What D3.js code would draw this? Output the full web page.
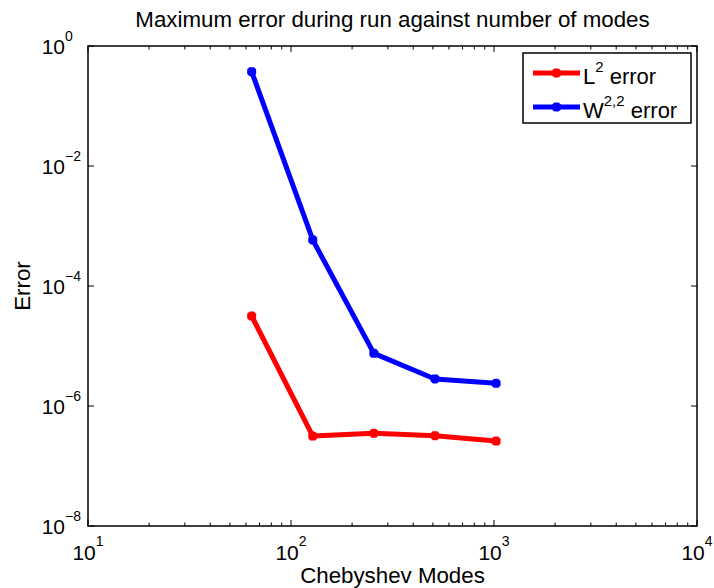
<!DOCTYPE html>
<meta charset="utf-8">
<script src="https://d3js.org/d3.v7.min.js"></script>
<style>
  body { margin: 0; background: #fff; }
  text { font-family: "Liberation Sans", Arial, Helvetica, sans-serif; fill: #000; }
</style>
<div id="my_dataviz"></div>
<script>

// data
var modes = [64, 128, 256, 512, 1024];
var l2Error = [3.16e-5, 3.16e-7, 3.5e-7, 3.2e-7, 2.6e-7];
var w22Error = [0.373, 5.85e-4, 7.55e-6, 2.82e-6, 2.39e-6];

var xTicks = [1e1, 1e2, 1e3, 1e4];
var xTickExp = ["1", "2", "3", "4"];
var yTicks = [1e0, 1e-2, 1e-4, 1e-6, 1e-8];
var yTickExp = ["0", "\u22122", "\u22124", "\u22126", "\u22128"];

var seriesNames = ["L", "W"];
var seriesSup = ["2", "2,2"];
var seriesColors = ["#ff0000", "#0000ff"];

// plot box
var margin = {top: 46, right: 17, bottom: 62, left: 88},
    width = 714 - margin.left - margin.right,
    height = 588 - margin.top - margin.bottom;

var svg = d3.select("#my_dataviz")
  .append("svg")
    .attr("width", 714)
    .attr("height", 588);

var g = svg.append("g")
    .attr("transform", "translate(" + margin.left + "," + margin.top + ")");

var x = d3.scaleLog().domain([1e1, 1e4]).range([0, width]);
var y = d3.scaleLog().domain([1e-8, 1e0]).range([height, 0]);

// minor ticks on x
var xMinor = [];
[1e1, 1e2, 1e3].forEach(function(d) {
  for (var k = 2; k <= 9; k++) xMinor.push(d * k);
});

function tickLines(sel, vals, pos, len, horizontal, atEnd) {
  sel.selectAll(null)
    .data(vals)
    .enter()
    .append("line")
      .attr("x1", function(d) { return horizontal ? pos(d) : (atEnd ? width : 0); })
      .attr("x2", function(d) { return horizontal ? pos(d) : (atEnd ? width - len : len); })
      .attr("y1", function(d) { return horizontal ? (atEnd ? 0 : height) : pos(d); })
      .attr("y2", function(d) { return horizontal ? (atEnd ? len : height - len) : pos(d); })
      .attr("stroke", "#000")
      .attr("stroke-width", 1);
}

var ticks = g.append("g");
tickLines(ticks, xTicks, x, 6, true, false);
tickLines(ticks, xTicks, x, 6, true, true);
tickLines(ticks, xMinor, x, 3.5, true, false);
tickLines(ticks, xMinor, x, 3.5, true, true);
tickLines(ticks, yTicks, y, 6, false, false);
tickLines(ticks, yTicks, y, 6, false, true);

// box
g.append("rect")
  .attr("width", width)
  .attr("height", height)
  .attr("fill", "none")
  .attr("stroke", "#000")
  .attr("stroke-width", 1.5);

// x tick labels
var xl = g.selectAll(".xlab")
  .data(xTicks)
  .enter()
  .append("text")
    .attr("x", function(d) { return x(d); })
    .attr("y", height + 34)
    .attr("text-anchor", "middle")
    .style("font-size", "21px");
xl.append("tspan").text("10");
xl.append("tspan")
  .attr("dy", -14)
  .style("font-size", "14px")
  .text(function(d, i) { return xTickExp[i]; });

// y tick labels
var yl = g.selectAll(".ylab")
  .data(yTicks)
  .enter()
  .append("g")
    .attr("transform", function(d) { return "translate(0," + y(d) + ")"; });
yl.append("text")
  .attr("x", -23)
  .attr("y", 8)
  .attr("text-anchor", "end")
  .style("font-size", "21px")
  .text("10");
yl.append("text")
  .attr("x", -23)
  .attr("y", -5)
  .style("font-size", "14px")
  .text(function(d, i) { return yTickExp[i]; });

// lines
var line = d3.line()
  .x(function(d) { return x(d[0]); })
  .y(function(d) { return y(d[1]); });

var allSeries = [l2Error, w22Error];

function star(sel, cx, cy, color) {
  var s = 4.5;
  var p = "M" + (cx - s) + "," + cy + "L" + (cx + s) + "," + cy +
          "M" + cx + "," + (cy - s) + "L" + cx + "," + (cy + s) +
          "M" + (cx - s * 0.75) + "," + (cy - s * 0.75) + "L" + (cx + s * 0.75) + "," + (cy + s * 0.75) +
          "M" + (cx - s * 0.75) + "," + (cy + s * 0.75) + "L" + (cx + s * 0.75) + "," + (cy - s * 0.75);
  sel.append("path")
    .attr("d", p)
    .attr("stroke", color)
    .attr("stroke-width", 3.5)
    .attr("fill", "none");
}

allSeries.forEach(function(vals, i) {
  var pts = modes.map(function(m, j) { return [m, vals[j]]; });
  g.append("path")
    .datum(pts)
    .attr("d", line)
    .attr("fill", "none")
    .attr("stroke", seriesColors[i])
    .attr("stroke-width", 5)
    .attr("stroke-linejoin", "round");
  pts.forEach(function(p) {
    star(g, x(p[0]), y(p[1]), seriesColors[i]);
  });
});

// title and axis labels
svg.append("text")
  .attr("x", margin.left + width / 2)
  .attr("y", 27)
  .attr("text-anchor", "middle")
  .style("font-size", "22.3px")
  .text("Maximum error during run against number of modes");

svg.append("text")
  .attr("x", margin.left + width / 2)
  .attr("y", 583)
  .attr("text-anchor", "middle")
  .style("font-size", "22.3px")
  .text("Chebyshev Modes");

svg.append("text")
  .attr("transform", "translate(30," + (margin.top + height / 2) + ") rotate(-90)")
  .attr("text-anchor", "middle")
  .style("font-size", "22.3px")
  .text("Error");

// legend
var leg = svg.append("g").attr("transform", "translate(523,53)");
leg.append("rect")
  .attr("width", 168)
  .attr("height", 70)
  .attr("fill", "#fff")
  .attr("stroke", "#000")
  .attr("stroke-width", 1.5);

seriesNames.forEach(function(name, i) {
  var ly = 20 + i * 34;
  leg.append("line")
    .attr("x1", 10).attr("x2", 57)
    .attr("y1", ly).attr("y2", ly)
    .attr("stroke", seriesColors[i])
    .attr("stroke-width", 5);
  star(leg, 33.5, ly, seriesColors[i]);
  var t = leg.append("text")
    .attr("x", 60)
    .attr("y", ly + 11)
    .style("font-size", "22px");
  t.append("tspan").text(name);
  t.append("tspan")
    .attr("dy", -12)
    .style("font-size", "15px")
    .text(seriesSup[i]);
  t.append("tspan")
    .attr("dy", 12)
    .text(" error");
});

</script>
